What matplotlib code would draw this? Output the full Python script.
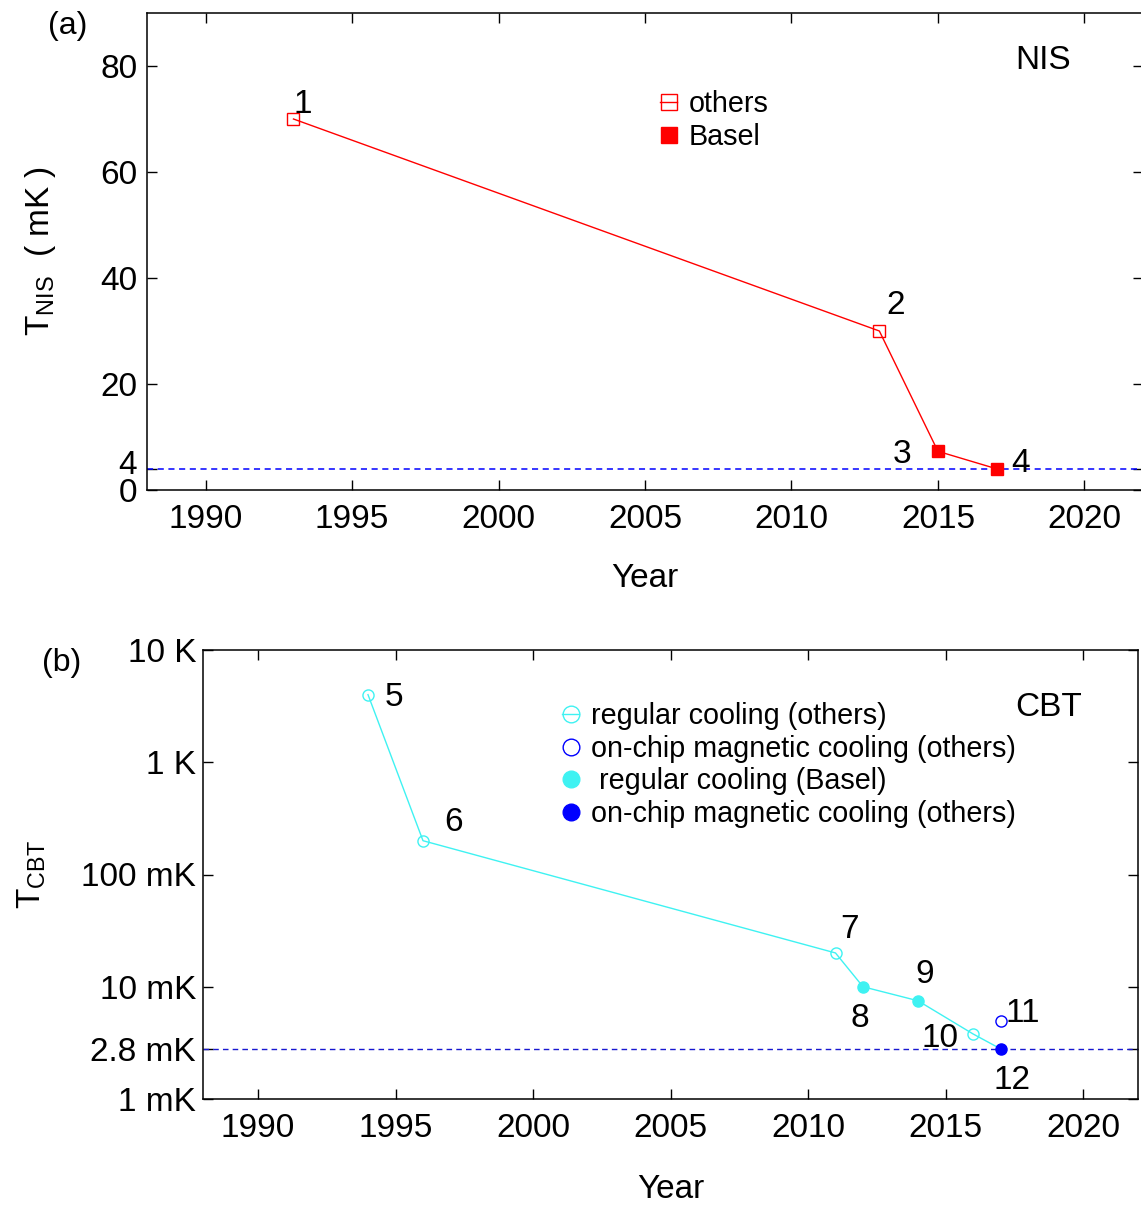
import matplotlib
matplotlib.use("Agg")
import matplotlib.pyplot as plt
from matplotlib.lines import Line2D
from matplotlib.transforms import ScaledTranslation

plt.rcParams['font.family'] = ['Liberation Sans', 'DejaVu Sans']
plt.rcParams['mathtext.fontset'] = 'custom'
plt.rcParams['mathtext.rm'] = 'Liberation Sans'
plt.rcParams['mathtext.it'] = 'Liberation Sans:italic'
plt.rcParams['mathtext.bf'] = 'Liberation Sans:bold'

# ---- (a) NIS thermometry ----
nis_years = [1993, 2013, 2015, 2017]
nis_temps = [70, 30, 7.3, 4]          # mK
nis_basel = [False, False, True, True]
nis_ids = ['1', '2', '3', '4']
nis_floor = 4                         # mK
nis_yticks = [0, 4, 20, 40, 60, 80]

# ---- (b) CBT thermometry ----
cbt_years = [1994, 1996, 2011, 2012, 2014, 2016, 2017, 2017]
cbt_temps = [4000, 200, 20, 10, 7.5, 3.8, 5, 2.8]   # mK
cbt_kind = ['reg_o', 'reg_o', 'reg_o', 'reg_b', 'reg_b', 'reg_o', 'mag_o', 'mag_f']
cbt_ids = ['5', '6', '7', '8', '9', '10', '11', '12']
cbt_chain = [0, 1, 2, 3, 4, 5, 7]     # points joined by the line
cbt_floor = 2.8                       # mK
cbt_yticks = [1, 2.8, 10, 100, 1000, 10000]
cbt_yticklabels = ['1 mK', '2.8 mK', '10 mK', '100 mK', '1 K', '10 K']

year_ticks = [1990, 1995, 2000, 2005, 2010, 2015, 2020]

# label offsets (points) for the numbered annotations
nis_off = [(7, 10.5), (12, 18), (-26, -2), (17, 4)]
cbt_off = [(19, -2), (22, 13), (10, 17), (-2, -23), (5, 19), (-24, -3), (16, 5), (8, -23)]

RED = '#ff0000'
CYAN = '#3ff2f2'
BLUE = '#0000ff'

W, H = 1141, 1205
fig = plt.figure(figsize=(W / 100, H / 100), dpi=100)
ax1 = fig.add_axes([147 / W, 1 - 490 / H, (1143 - 147) / W, (490 - 13) / H])
ax2 = fig.add_axes([203 / W, 1 - 1099 / H, (1138 - 203) / W, (1099 - 650) / H])

for ax in (ax1, ax2):
    ax.tick_params(direction='in', top=True, right=True, length=7.5, width=1,
                   labelsize=24, pad=7)
    ax.tick_params(axis='x', pad=10)
    for sp in ax.spines.values():
        sp.set_linewidth(1.1)
    ax.set_xlim(1988, 2022)
    ax.set_xticks(year_ticks)
ax1.set_xlabel('Year', fontsize=24, labelpad=20.5)
ax2.set_xlabel('Year', fontsize=24, labelpad=21.5)
ax2.tick_params(axis='y', pad=5)

# panel (a)
ax1.set_ylim(0, 90)
ax1.set_yticks(nis_yticks)
ax1.axhline(nis_floor, color=BLUE, lw=1.1, dashes=(4, 3))
ax1.plot(nis_years, nis_temps, color=RED, lw=1.0, zorder=2)
for x, y, b in zip(nis_years, nis_temps, nis_basel):
    ax1.plot([x], [y], marker='s', ms=8.5, mec=RED, mew=1.0,
             mfc=RED if b else 'none', ls='none', zorder=3)
for x, y, t, (dx, dy) in zip(nis_years, nis_temps, nis_ids, nis_off):
    ax1.annotate(t, (x, y), xytext=(dx, dy), textcoords='offset points',
                 ha='center', va='center', fontsize=24)
ax1.text(0.9, 0.8995, 'NIS', transform=ax1.transAxes, fontsize=24,
         ha='center', va='center')
ax1.set_ylabel(r'T$_{\mathregular{NIS}}$  ( mK )', fontsize=24, labelpad=30)

# lift the "4" label clear of the "0" label
fig.canvas.draw()
for lab in ax1.get_yticklabels():
    if lab.get_text() == '4':
        lab.set_transform(lab.get_transform() +
                          ScaledTranslation(0, 5 / 72, fig.dpi_scale_trans))

LMS = 12
h_a = [Line2D([], [], color=RED, marker='s', ms=LMS, mfc='none', mew=1.0, lw=1.0),
       Line2D([], [], color=RED, marker='s', ms=LMS, mfc=RED, mew=1.0, lw=0)]
ax1.legend(h_a, ['others', 'Basel'], loc='center left',
           bbox_to_anchor=(660 / W, 1 - 120.5 / H), bbox_transform=fig.transFigure,
           frameon=False, fontsize=20.7, handlelength=0.6, handletextpad=0.4,
           borderpad=0, borderaxespad=0, labelspacing=0.15, numpoints=1)

# panel (b)
ax2.set_yscale('log')
ax2.set_ylim(1, 10000)
ax2.set_yticks(cbt_yticks)
ax2.set_yticklabels(cbt_yticklabels)
ax2.yaxis.set_minor_locator(matplotlib.ticker.NullLocator())
ax2.axhline(cbt_floor, color='#1818d0', lw=1.0, dashes=(4, 3))
ax2.plot([cbt_years[i] for i in cbt_chain], [cbt_temps[i] for i in cbt_chain],
         color=CYAN, lw=1.0, zorder=2)
style = {
    'reg_o': dict(mec=CYAN, mfc='none'),
    'reg_b': dict(mec=CYAN, mfc=CYAN),
    'mag_o': dict(mec=BLUE, mfc='none'),
    'mag_f': dict(mec=BLUE, mfc=BLUE),
}
for x, y, k in zip(cbt_years, cbt_temps, cbt_kind):
    ax2.plot([x], [y], marker='o', ms=8, mew=1.0, ls='none', zorder=3, **style[k])
for x, y, t, (dx, dy) in zip(cbt_years, cbt_temps, cbt_ids, cbt_off):
    ax2.annotate(t, (x, y), xytext=(dx, dy), textcoords='offset points',
                 ha='center', va='center', fontsize=24)
ax2.text(0.904, 0.8716, 'CBT', transform=ax2.transAxes, fontsize=24,
         ha='center', va='center')
ax2.set_ylabel(r'T$_{\mathregular{CBT}}$', fontsize=24, labelpad=24)

h_b = [Line2D([], [], color=CYAN, marker='o', ms=LMS, mfc='none', mew=1.0, lw=1.0),
       Line2D([], [], color=BLUE, marker='o', ms=LMS, mfc='none', mew=1.0, lw=0),
       Line2D([], [], color=CYAN, marker='o', ms=LMS, mfc=CYAN, mew=1.0, lw=0),
       Line2D([], [], color=BLUE, marker='o', ms=LMS, mfc=BLUE, mew=1.0, lw=0)]
ax2.legend(h_b, ['regular cooling (others)', 'on-chip magnetic cooling (others)',
                 ' regular cooling (Basel)', 'on-chip magnetic cooling (others)'],
           loc='center left', bbox_to_anchor=(562 / W, 1 - 765 / H),
           bbox_transform=fig.transFigure, frameon=False, fontsize=20.7,
           handlelength=0.6, handletextpad=0.4, borderpad=0, borderaxespad=0,
           labelspacing=0.16, numpoints=1)

fig.text(68 / W, 1 - 26 / H, '(a)', fontsize=23, ha='center', va='center')
fig.text(62 / W, 1 - 663 / H, '(b)', fontsize=23, ha='center', va='center')

fig.savefig('out.png', dpi=100)
